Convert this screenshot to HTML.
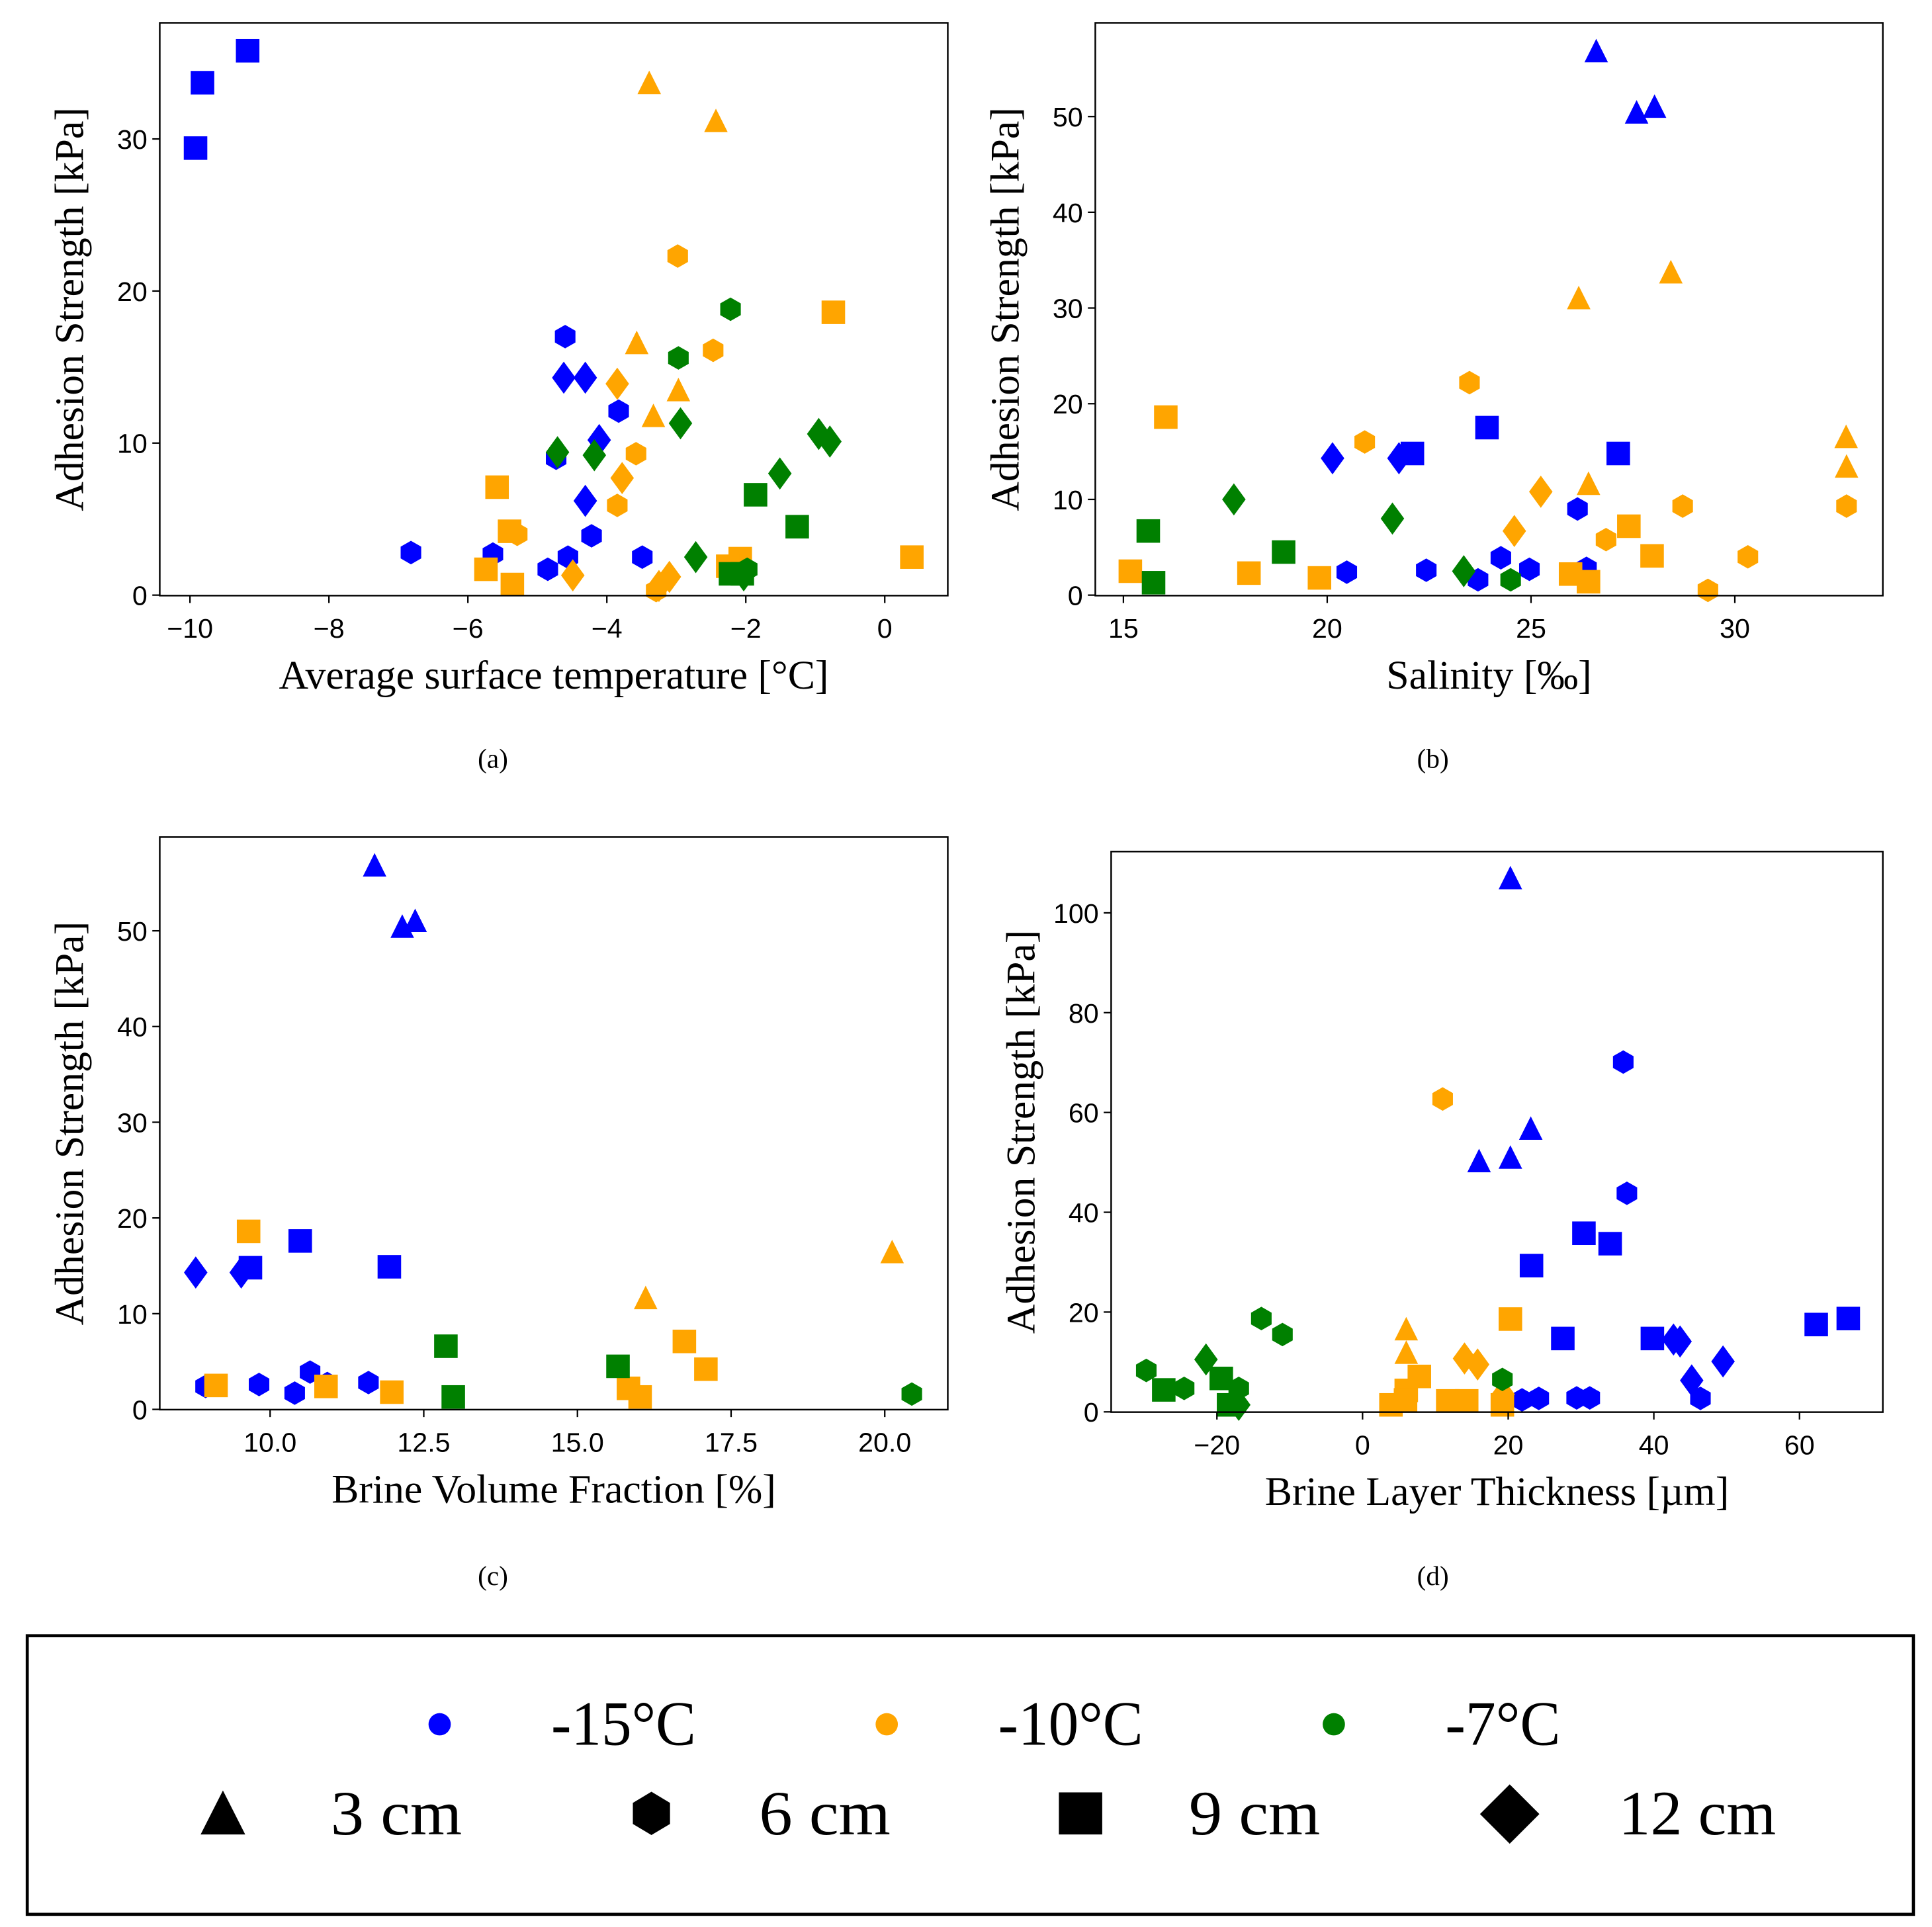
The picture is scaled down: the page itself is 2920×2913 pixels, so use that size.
<!DOCTYPE html>
<html><head><meta charset="utf-8"><style>
html,body{margin:0;padding:0;background:#fff;}
svg{display:block;}
.tick{font-family:"Liberation Sans","DejaVu Sans",sans-serif;font-size:22px;fill:#000;}
.lab{font-family:"Liberation Serif",serif;font-size:33px;fill:#000;}
.cap{font-family:"Liberation Serif",serif;font-size:22px;fill:#000;}
.leg{font-family:"Liberation Serif",serif;font-size:51px;fill:#000;}
</style></head><body>
<svg id="fig" xmlns="http://www.w3.org/2000/svg" width="2920" height="2913" viewBox="0 0 1560 1556.2">
<rect x="0" y="0" width="1560" height="1556.2" fill="#fff"/>
<g id="plots"></g>
<g>
<rect x="22" y="1321" width="1523" height="225" fill="none" stroke="#000" stroke-width="2.5"/>
<circle cx="355" cy="1392.5" r="9" fill="#0000ff"/>
<text class="leg" x="445" y="1409" textLength="117" lengthAdjust="spacingAndGlyphs">-15°C</text>
<circle cx="716" cy="1392.5" r="9" fill="#ffa500"/>
<text class="leg" x="806" y="1409" textLength="117" lengthAdjust="spacingAndGlyphs">-10°C</text>
<circle cx="1077" cy="1392.5" r="9" fill="#008000"/>
<text class="leg" x="1167" y="1409" textLength="93" lengthAdjust="spacingAndGlyphs">-7°C</text>
<polygon points="180,1446 198,1481.5 162,1481.5" fill="#000"/>
<text class="leg" x="267" y="1481.5" textLength="106" lengthAdjust="spacingAndGlyphs">3 cm</text>
<polygon points="526,1447 541,1456 541,1473 526,1482 511,1473 511,1456" fill="#000"/>
<text class="leg" x="613" y="1481.5" textLength="106" lengthAdjust="spacingAndGlyphs">6 cm</text>
<rect x="855" y="1447.5" width="35" height="34" fill="#000"/>
<text class="leg" x="960" y="1481.5" textLength="106" lengthAdjust="spacingAndGlyphs">9 cm</text>
<polygon points="1219,1441 1243,1465 1219,1489 1195,1465" fill="#000"/>
<text class="leg" x="1307" y="1481.5" textLength="127" lengthAdjust="spacingAndGlyphs">12 cm</text>
</g>
</svg>
<script>
// Panel (a): temperature
const aTemp = [-15,-15,-15, -15,-15,-15,-15,-15,-15,-15,-15,-15, -15,-15,-15,-15,
 -10,-10,-10,-10,-10, -10,-10,-10,-10,-10,-10, -10,-10,-10,-10,-10, -10,-10,-10,-10,-10,-10,-10,-10,
 -7,-7,-7, -7,-7,-7,-7,-7,-7,-7,-7, -7,-7,-7,-7];
const aDepth = [9,9,9, 6,6,6,6,6,6,6,6,6, 12,12,12,12,
 3,3,3,3,3, 6,6,6,6,6,6, 12,12,12,12,12, 9,9,9,9,9,9,9,9,
 6,6,6, 12,12,12,12,12,12,12,12, 9,9,9,9];
const aX = [-9.17,-9.82,-9.92, -4.60,-3.83,-4.73,-4.22,-6.82,-5.64,-4.56,-3.49,-4.85, -4.62,-4.31,-4.11,-4.31,
 -3.39,-2.43,-3.57,-2.97,-3.33, -2.98,-2.47,-3.58,-3.85,-5.29,-3.29, -3.85,-3.78,-4.49,-3.10,-3.25, -0.74,-5.58,-5.40,-5.74,-5.36,-2.08,-2.26,0.39,
 -2.22,-2.97,-1.98, -2.94,-4.71,-4.18,-0.95,-0.79,-1.51,-2.72,-2.03, -1.86,-1.26,-2.22,-2.05];
const aY = [35.8,33.7,29.4, 17.0,12.1,9.0,3.9,2.8,2.7,2.5,2.5,1.7, 14.3,14.3,10.2,6.2,
 33.6,31.1,16.5,13.4,11.7, 22.3,16.1,9.3,5.9,4.0,0.3, 13.9,7.7,1.3,1.2,0.6, 18.6,7.1,4.2,1.7,0.7,2.4,1.9,2.5,
 18.8,15.6,1.7, 11.3,9.4,9.2,10.6,10.1,8.0,2.5,1.3, 6.6,4.5,1.4,1.4];
// Panel (b): salinity
const bTemp = [-15,-15,-15, -15,-15,-15, -15,-15, -15,-15,-15,-15,-15,-15,-15,
 -10,-10,-10,-10,-10, -10,-10,-10,-10,-10,-10,-10, -10,-10, -10,-10,-10,-10,-10,-10,-10,-10,
 -7,-7,-7, -7,-7,-7, -7];
const bDepth = [3,3,3, 9,9,9, 12,12, 6,6,6,6,6,6,6,
 3,3,3,3,3, 6,6,6,6,6,6,6, 12,12, 9,9,9,9,9,9,9,9,
 12,12,12, 9,9,9, 6];
const bX = [26.60,27.59,28.03, 23.92,22.09,27.14, 20.13,21.76, 26.14,24.26,24.96,20.48,22.43,23.70,26.36,
 28.43,26.17,26.41,32.73,32.74, 23.49,20.92,28.72,32.74,26.84,30.32,29.34, 25.24,24.59, 16.04,27.40,27.97,15.17,18.08,19.81,25.97,26.41,
 17.71,21.60,23.35, 15.61,18.93,15.74, 24.50];
const bY = [56.7,50.3,50.9, 17.5,14.8,14.8, 14.3,14.3, 9.0,3.9,2.7,2.4,2.6,1.6,2.8,
 33.6,30.9,11.5,16.4,13.3, 22.2,16.0,9.3,9.3,5.8,4.0,0.5, 10.8,6.7, 18.6,7.2,4.1,2.5,2.3,1.8,2.2,1.4,
 10.0,8.0,2.5, 6.7,4.5,1.3, 1.6];
// Panel (c): brine volume fraction
const cTemp = [-15,-15,-15, -15,-15,-15, -15,-15, -15,-15,-15,-15,-15,-15,
 -10,-10, -10,-10,-10,-10,-10,-10,-10,-10,
 -7,-7,-7, -7];
const cDepth = [3,3,3, 9,9,9, 12,12, 6,6,6,6,6,6,
 3,3, 9,9,9,9,9,9,9,9,
 9,9,9, 6];
const cX = [11.70,12.15,12.36, 10.49,9.68,11.94, 8.79,9.53, 8.95,9.82,10.40,10.65,10.93,11.60,
 20.12,16.11, 9.65,16.74,17.09,9.12,10.91,11.98,15.83,16.02,
 12.86,15.66,12.98, 20.44];
const cY = [56.7,50.3,50.9, 17.6,14.8,14.9, 14.3,14.3, 2.4,2.6,1.7,3.9,2.7,2.8,
 16.3,11.5, 18.6,7.1,4.2,2.5,2.4,1.8,2.2,1.3,
 6.6,4.5,1.3, 1.6];
// Panel (d): brine layer thickness
const dTemp = [-15,-15,-15,-15, -15,-15,-15,-15,-15,-15,-15, -15,-15,-15,-15,-15,-15,-15, -15,-15,-15,-15,
 -10, -10,-10, -10,-10,-10,-10,-10,-10,-10,-10, -10,-10,-10,
 -7,-7,-7,-7,-7,-7, -7,-7, -7,-7,-7];
const dDepth = [3,3,3,3, 6,6,6,6,6,6,6, 9,9,9,9,9,9,9, 12,12,12,12,
 6, 3,3, 9,9,9,9,9,9,9,9, 12,12,12,
 6,6,6,6,6,6, 12,12, 9,9,9];
const dX = [20.3,23.1,16.0,20.3, 35.8,36.3,21.9,24.2,29.4,31.2,46.4, 30.4,34.0,23.2,27.5,39.8,62.3,66.7, 42.7,43.6,49.5,45.2,
 11.0, 6.0,6.0, 20.3,7.8,6.0,5.9,3.9,11.7,14.3,19.2,19.3, 14.0,15.8,19.2,
 -13.9,-11.0,-29.7,-24.5,-17.0,-17.0, -21.5,-18.4, -27.3,-19.4,-20.1];
const dY = [106.7,56.5,50.0,50.7, 70.1,43.8,2.4,2.7,2.8,2.8,2.7, 35.8,33.7,29.3,14.7,14.7,17.5,18.7, 14.5,14.1,10.1,6.3,
 62.7, 16.3,11.6, 18.6,7.1,4.3,2.4,1.4,2.2,2.2,1.4,3.5, 10.7,9.5,6.5,
 18.7,15.5,8.3,4.7,4.7,1.4, 10.5,1.4, 4.4,6.7,1.8];

const xTicksA = [-10,-8,-6,-4,-2,0];
const yTicksA = [0,10,20,30];
const xTicksB = [15,20,25,30];
const yTicksB = [0,10,20,30,40,50];
const xTicksC = [10.0,12.5,15.0,17.5,20.0];
const yTicksC = [0,10,20,30,40,50];
const xTicksD = [-20,0,20,40,60];
const yTicksD = [0,20,40,60,80,100];

const NS = "http://www.w3.org/2000/svg";
const colors = {"-15":"#0000ff","-10":"#ffa500","-7":"#008000"};
const root = document.getElementById('plots');

function mk(tag, attrs, parent){
  const e = document.createElementNS(NS, tag);
  for (const k in attrs) e.setAttribute(k, attrs[k]);
  parent.appendChild(e);
  return e;
}
function fmt(v, dec){
  let s = dec ? v.toFixed(1) : String(v);
  return s.replace('-', '\u2212');
}
function marker(g, shape, cx, cy, fill){
  let e;
  if (shape === 3){
    e = mk('polygon', {points:`${cx},${cy-11} ${cx+9.5},${cy+8} ${cx-9.5},${cy+8}`, fill}, g);
  } else if (shape === 6){
    e = mk('polygon', {points:`${cx},${cy-9.5} ${cx+8.3},${cy-4.75} ${cx+8.3},${cy+4.75} ${cx},${cy+9.5} ${cx-8.3},${cy+4.75} ${cx-8.3},${cy-4.75}`, fill}, g);
  } else if (shape === 9){
    e = mk('rect', {x:cx-9.5, y:cy-9.5, width:19, height:19, fill}, g);
  } else {
    e = mk('polygon', {points:`${cx},${cy-13} ${cx+9.5},${cy} ${cx},${cy+13} ${cx-9.5},${cy}`, fill}, g);
  }
  return e;
}
function panel(cfg){
  const g = mk('g', {}, root);
  
  
  const sx = v => cfg.xp0 + (v - cfg.xv0) * (cfg.xp1 - cfg.xp0) / (cfg.xv1 - cfg.xv0);
  const sy = v => cfg.yp0 + (v - cfg.yv0) * (cfg.yp1 - cfg.yp0) / (cfg.yv1 - cfg.yv0);
  const pts = mk('g', {}, g);
  
  
  for (const t of [-15,-10,-7]){
    for (let i = 0; i < cfg.xs.length; i++){
      if (cfg.temp[i] !== t) continue;
      const m = marker(pts, cfg.depth[i], sx(cfg.xs[i]), sy(cfg.ys[i]), colors[String(t)]);
      
      
    }
  }
  const frame = mk('rect', {x:cfg.bx0, y:cfg.by0, width:cfg.bx1-cfg.bx0, height:cfg.by1-cfg.by0, fill:'none', stroke:'#000', 'stroke-width':1.3}, g);
  
  
  for (const v of cfg.xt){
    const x = sx(v);
    mk('line', {x1:x, x2:x, y1:cfg.by1, y2:cfg.by1+6, stroke:'#000', 'stroke-width':1.2}, g);
    const t = mk('text', {x:x, y:cfg.by1+34, 'text-anchor':'middle', class:'tick'}, g);
    
    
    t.textContent = fmt(v, cfg.xdec);
  }
  for (const v of cfg.yt){
    const y = sy(v);
    mk('line', {x1:cfg.bx0-6, x2:cfg.bx0, y1:y, y2:y, stroke:'#000', 'stroke-width':1.2}, g);
    const t = mk('text', {x:cfg.bx0-10, y:y+8, 'text-anchor':'end', class:'tick'}, g);
    
    
    t.textContent = fmt(v, false);
  }
  const xl = mk('text', {x:(cfg.bx0+cfg.bx1)/2, y:cfg.by1+75, 'text-anchor':'middle', class:'lab'}, g);
  
  
  xl.textContent = cfg.xlabel;
  const yc = (cfg.by0+cfg.by1)/2;
  const yl = mk('text', {x:cfg.bx0-62, y:yc, 'text-anchor':'middle', class:'lab', transform:`rotate(-90 ${cfg.bx0-62} ${yc})`}, g);
  
  
  yl.textContent = 'Adhesion Strength [kPa]';
  const cp = mk('text', {x:cfg.capx, y:cfg.capy, 'text-anchor':'middle', class:'cap'}, g);
  
  
  cp.textContent = cfg.cap;
}
panel({name:'panel-a-temperature', xs:aX, ys:aY, temp:aTemp, depth:aDepth, xt:xTicksA, yt:yTicksA, xdec:false,
  xv0:-10, xp0:153.4, xv1:0, xp1:714.4, yv0:0, yp0:480.6, yv1:30, yp1:112.2,
  bx0:129, bx1:765.3, by0:18.4, by1:481, xlabel:'Average surface temperature [°C]', cap:'(a)', capx:398, capy:620});
panel({name:'panel-b-salinity', xs:bX, ys:bY, temp:bTemp, depth:bDepth, xt:xTicksB, yt:yTicksB, xdec:false,
  xv0:15, xp0:907.1, xv1:30, xp1:1400.8, yv0:0, yp0:480.6, yv1:50, yp1:94.1,
  bx0:884.4, bx1:1520.3, by0:18.4, by1:481, xlabel:'Salinity [‰]', cap:'(b)', capx:1157, capy:620});
panel({name:'panel-c-brine-volume', xs:cX, ys:cY, temp:cTemp, depth:cDepth, xt:xTicksC, yt:yTicksC, xdec:true,
  xv0:10, xp0:218.1, xv1:20, xp1:714.4, yv0:0, yp0:1138.2, yv1:50, yp1:751.7,
  bx0:129, bx1:765.3, by0:676, by1:1138.4, xlabel:'Brine Volume Fraction [%]', cap:'(c)', capx:398, capy:1280});
panel({name:'panel-d-brine-thickness', xs:dX, ys:dY, temp:dTemp, depth:dDepth, xt:xTicksD, yt:yTicksD, xdec:false,
  xv0:0, xp0:1100.2, xv1:60, xp1:1453.0, yv0:0, yp0:1140.2, yv1:100, yp1:737.2,
  bx0:897.2, bx1:1520.3, by0:687.7, by1:1140.4, xlabel:'Brine Layer Thickness [µm]', cap:'(d)', capx:1157, capy:1280});
</script>
</body></html>
